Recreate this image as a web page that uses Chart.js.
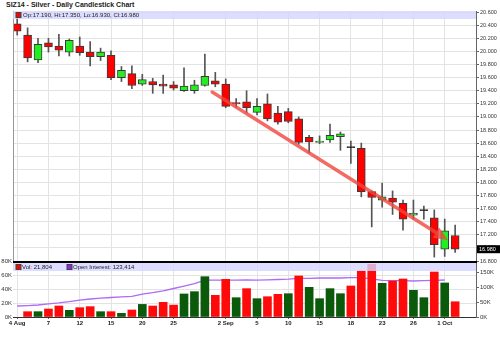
<!DOCTYPE html>
<html>
<head>
<meta charset="utf-8">
<script src="https://cdn.jsdelivr.net/npm/chart.js@4.4.1/dist/chart.umd.min.js"></script>
<style>
  body { margin: 0; background: #fff; width: 500px; height: 340px; overflow: hidden; position: relative; }
  #title { position: absolute; left: 6px; top: 1px; font: bold 7px/8px "Liberation Sans", Arial, sans-serif; color: #222; white-space: nowrap; }
  #price { position: absolute; left: 0; top: 0; }
  #vol { position: absolute; left: 0; top: 254px; }
</style>
</head>
<body>
<div id="title">SIZ14 - Silver - Daily Candlestick Chart</div>
<canvas id="price" width="500" height="272"></canvas>
<canvas id="vol" width="500" height="86"></canvas>
<script>
// Trading days
const dates = [
  "Aug 4", "Aug 5", "Aug 6", "Aug 7", "Aug 8", "Aug 11", "Aug 12", "Aug 13", "Aug 14", "Aug 15",
  "Aug 18", "Aug 19", "Aug 20", "Aug 21", "Aug 22", "Aug 25", "Aug 26", "Aug 27", "Aug 28", "Aug 29",
  "Sep 2", "Sep 3", "Sep 4", "Sep 5", "Sep 8", "Sep 9", "Sep 10", "Sep 11", "Sep 12", "Sep 15",
  "Sep 16", "Sep 17", "Sep 18", "Sep 19", "Sep 22", "Sep 23", "Sep 24", "Sep 25", "Sep 26", "Sep 29",
  "Sep 30", "Oct 1", "Oct 2"
];

// OHLC
const openPx = [
  20.42, 20.25, 19.87, 20.13, 20.08, 19.99, 20.08, 19.99, 19.92, 19.94,
  19.60, 19.66, 19.50, 19.54, 19.50, 19.49, 19.40, 19.40, 19.48, 19.55,
  19.50, 19.22, 19.23, 19.07, 19.20, 19.06, 19.08, 18.97, 18.69, 18.61,
  18.65, 18.70, 18.53, 18.52, 17.86, 17.73, 17.76, 17.68, 17.50, 17.57,
  17.46, 16.98, 17.19
];
const highPx = [
  20.52, 20.36, 20.20, 20.20, 20.26, 20.19, 20.22, 20.15, 20.05, 20.01,
  19.77, 19.78, 19.65, 19.59, 19.64, 19.54, 19.75, 19.56, 19.96, 19.68,
  19.58, 19.28, 19.40, 19.28, 19.35, 19.16, 19.13, 19.00, 18.72, 18.71,
  18.89, 18.77, 18.63, 18.60, 17.87, 17.99, 17.87, 17.73, 17.73, 17.64,
  17.58, 17.44, 17.35
];
const lowPx = [
  20.25, 19.84, 19.83, 19.99, 19.93, 19.93, 19.94, 19.78, 19.86, 19.57,
  19.54, 19.43, 19.48, 19.36, 19.36, 19.41, 19.39, 19.36, 19.47, 19.46,
  19.14, 19.15, 19.06, 19.03, 18.94, 18.89, 18.91, 18.58, 18.45, 18.59,
  18.61, 18.49, 18.29, 17.78, 17.32, 17.62, 17.51, 17.27, 17.44, 17.44,
  16.86, 16.87, 16.93
];
const closePx = [
  20.31, 19.90, 20.11, 20.07, 20.02, 20.17, 19.98, 19.92, 19.99, 19.60,
  19.71, 19.48, 19.57, 19.49, 19.47, 19.44, 19.47, 19.49, 19.62, 19.50,
  19.16, 19.20, 19.14, 19.16, 18.97, 18.92, 18.93, 18.61, 18.62, 18.63,
  18.72, 18.74, 18.53, 17.86, 17.77, 17.78, 17.70, 17.44, 17.53, 17.57,
  17.05, 17.26, 16.98
];

// Volume and open interest
const volume = [
  null, 7600, 7600, 11400, 15700, 9500, 13300, 14800, 7600, 7600,
  5200, 10000, 18000, 15700, 21000, 17000, 32900, 36200, 57600, 31000,
  53800, 27600, 40500, 26200, 29000, 32400, 33300, 58600, 42400, 26200,
  40500, 33300, 44300, 65700, 75200, 48100, 51400, 54300, 38100, 27600,
  64300, 48600, 21804
];
const openInterest = [
  36700, 38000, 40000, 44000, 47000, 51000, 56000, 60000, 63000, 65000,
  67000, 69000, 76000, 81000, 87000, 95000, 103000, 111000, 123000, 123000,
  123000, 123000, 124000, 123000, 124000, 125000, 126000, 129000, 129000, 130000,
  130000, 130000, 131000, 131000, 127000, 122000, 121000, 121000, 120000, 121000,
  122000, 123414, null
];

// Axis ticks
const tickDates = ["Aug 4", "Aug 7", "Aug 12", "Aug 15", "Aug 20", "Aug 25", "Sep 2", "Sep 5", "Sep 10", "Sep 15", "Sep 18", "Sep 23", "Sep 26", "Oct 1"];
const tickLabels = ["4 Aug", "7", "12", "15", "20", "25", "2 Sep", "5", "10", "15", "18", "23", "26", "1 Oct"];
const priceTicks = [16.8, 17.0, 17.2, 17.4, 17.6, 17.8, 18.0, 18.2, 18.4, 18.6, 18.8, 19.0, 19.2, 19.4, 19.6, 19.8, 20.0, 20.2, 20.4, 20.6];
const volTicks = [0, 20000, 40000, 60000, 80000];
const oiTicks = [0, 50000, 100000, 150000];

// Trend arrow, [day index, price]
const trendFrom = [18.7, 19.38];
const trendTo = [41.3, 17.12];

Chart.defaults.font.family = '"Liberation Sans", Arial, sans-serif';

const tickIndex = tickDates.map((d) => dates.indexOf(d));
const GRID = "#e3e3e3";
const last = dates.length - 1;

function candleColor(i) {
  if (closePx[i] > openPx[i]) return "#22ee22";
  if (closePx[i] < openPx[i]) return "#ff0000";
  return "#000";
}

function setXTicks(scale) {
  scale.ticks = tickIndex.map((v) => ({ value: v }));
}

// Draws the trend arrow, legend band and last price tag
const pricePlugin = {
  id: "pricePlugin",
  afterDatasetsDraw(chart) {
    const { ctx, scales } = chart;
    const x1 = scales.x.getPixelForValue(trendFrom[0]);
    const y1 = scales.y.getPixelForValue(trendFrom[1]);
    const x2 = scales.x.getPixelForValue(trendTo[0]);
    const y2 = scales.y.getPixelForValue(trendTo[1]);
    const ang = Math.atan2(y2 - y1, x2 - x1);
    const headLen = 14;
    const bx = x2 - headLen * Math.cos(ang);
    const by = y2 - headLen * Math.sin(ang);
    ctx.save();
    ctx.strokeStyle = "rgba(240, 70, 60, 0.8)";
    ctx.fillStyle = "rgba(240, 70, 60, 0.8)";
    ctx.lineWidth = 3.5;
    ctx.lineCap = "round";
    ctx.beginPath();
    ctx.moveTo(x1, y1);
    ctx.lineTo(bx, by);
    ctx.stroke();
    ctx.beginPath();
    ctx.moveTo(x2, y2);
    ctx.lineTo(bx + 6 * Math.sin(ang), by - 6 * Math.cos(ang));
    ctx.lineTo(bx - 6 * Math.sin(ang), by + 6 * Math.cos(ang));
    ctx.closePath();
    ctx.fill();
    ctx.restore();
  },
  afterDraw(chart) {
    const { ctx, chartArea: a, scales } = chart;
    ctx.save();
    // left border
    ctx.strokeStyle = "#999";
    ctx.lineWidth = 1;
    ctx.beginPath();
    ctx.moveTo(a.left + 0.5, a.top);
    ctx.lineTo(a.left + 0.5, a.bottom);
    ctx.stroke();
    // legend band
    ctx.fillStyle = "rgba(212, 212, 255, 0.8)";
    ctx.fillRect(a.left, a.top, a.right - a.left, 8);
    ctx.fillStyle = "#ff0000";
    ctx.fillRect(a.left + 3, a.top + 1.5, 5, 5);
    ctx.strokeStyle = "#444";
    ctx.strokeRect(a.left + 3, a.top + 1.5, 5, 5);
    ctx.fillStyle = "#222";
    ctx.font = '6px "Liberation Sans", Arial, sans-serif';
    ctx.textBaseline = "middle";
    ctx.fillText(
      "Op:" + openPx[last].toFixed(3) + ", Hi:" + highPx[last].toFixed(3) +
      ", Lo:" + lowPx[last].toFixed(3) + ", Cl:" + closePx[last].toFixed(3),
      a.left + 10, a.top + 4.5
    );
    // last price tag
    const y = scales.y.getPixelForValue(closePx[last]);
    ctx.fillStyle = "#000";
    ctx.fillRect(a.right + 1, y - 4, 500 - a.right - 1, 8);
    ctx.fillStyle = "#fff";
    ctx.font = '5.5px "Liberation Sans", Arial, sans-serif';
    ctx.fillText(closePx[last].toFixed(3), a.right + 3, y + 0.5);
    ctx.restore();
  },
};

new Chart(document.getElementById("price"), {
  type: "bar",
  data: {
    datasets: [
      {
        label: "Body",
        data: dates.map((d, i) => ({ x: i, y: [openPx[i], closePx[i]] })),
        backgroundColor: (c) => candleColor(c.dataIndex),
        borderColor: "#3a3a3a",
        borderWidth: 1,
        borderSkipped: false,
        barThickness: 8,
        minBarLength: 1,
        grouped: false,
        order: 0,
      },
      {
        label: "Wick",
        data: dates.map((d, i) => ({ x: i, y: [lowPx[i], highPx[i]] })),
        backgroundColor: "#555",
        barThickness: 1,
        grouped: false,
        order: 1,
      },
    ],
  },
  options: {
    responsive: false,
    animation: false,
    devicePixelRatio: 1,
    layout: { padding: { left: 13, top: 11, right: 0, bottom: 11 } },
    plugins: { legend: { display: false }, tooltip: { enabled: false } },
    scales: {
      x: {
        type: "linear",
        offset: false,
        min: -0.4,
        max: 44,
        afterBuildTicks: setXTicks,
        afterFit: (s) => { s.height = 0; },
        ticks: { display: false },
        grid: { color: GRID, drawTicks: false, offset: false },
        border: { display: false },
      },
      y: {
        position: "right",
        min: 16.8,
        max: 20.617,
        afterBuildTicks: (s) => { s.ticks = priceTicks.map((v) => ({ value: v })); },
        afterFit: (s) => { s.width = 24; },
        ticks: {
          font: { size: 5.5 },
          color: "#333",
          padding: 1,
          callback: (v) => v.toFixed(3),
        },
        grid: { color: GRID, tickColor: "#666", tickLength: 3 },
        border: { color: "#666" },
      },
    },
  },
  plugins: [pricePlugin],
});

// Separator, legend band for the lower panel
const volPlugin = {
  id: "volPlugin",
  afterDraw(chart) {
    const { ctx, chartArea: a } = chart;
    ctx.save();
    ctx.fillStyle = "rgba(212, 212, 255, 0.8)";
    ctx.fillRect(a.left, a.top + 2, a.right - a.left, 8);
    ctx.fillStyle = "#000";
    ctx.fillRect(a.left, a.top, a.right - a.left + 1, 2);
    ctx.font = '6px "Liberation Sans", Arial, sans-serif';
    ctx.textBaseline = "middle";
    ctx.fillStyle = "#ff0000";
    ctx.fillRect(a.left + 3, a.top + 3.5, 5, 5);
    ctx.strokeStyle = "#444";
    ctx.lineWidth = 1;
    ctx.strokeRect(a.left + 3, a.top + 3.5, 5, 5);
    ctx.fillStyle = "#222";
    ctx.fillText("Vol: " + volume[last].toLocaleString("en-US"), a.left + 9, a.top + 6.5);
    ctx.fillStyle = "#8a2be2";
    ctx.fillRect(a.left + 54, a.top + 3.5, 5, 5);
    ctx.strokeRect(a.left + 54, a.top + 3.5, 5, 5);
    ctx.fillStyle = "#222";
    const oiLast = openInterest.filter((v) => v != null).pop();
    ctx.fillText("Open Interest: " + oiLast.toLocaleString("en-US"), a.left + 60, a.top + 6.5);
    ctx.restore();
  },
};

new Chart(document.getElementById("vol"), {
  type: "bar",
  data: {
    datasets: [
      {
        type: "bar",
        label: "Vol",
        data: dates.map((d, i) => ({ x: i, y: volume[i] })),
        backgroundColor: (c) => {
          const i = c.dataIndex;
          return i > 0 && closePx[i] < closePx[i - 1] ? "#ff0a0a" : "#0b5a0b";
        },
        barThickness: 8,
        yAxisID: "yv",
        order: 0,
      },
      {
        type: "line",
        label: "Open Interest",
        data: dates.map((d, i) => ({ x: i, y: openInterest[i] })),
        borderColor: "#b06af5",
        borderWidth: 1.3,
        pointRadius: 0,
        yAxisID: "yo",
        order: 1,
      },
    ],
  },
  options: {
    responsive: false,
    animation: false,
    devicePixelRatio: 1,
    layout: { padding: { left: 0, top: 7, right: 0, bottom: 0 } },
    plugins: { legend: { display: false }, tooltip: { enabled: false } },
    scales: {
      x: {
        type: "linear",
        offset: false,
        min: -0.4,
        max: 44,
        afterBuildTicks: setXTicks,
        afterFit: (s) => { s.height = 23; },
        ticks: {
          font: { size: 6, weight: "bold" },
          color: "#222",
          padding: 1,
          maxRotation: 0,
          autoSkip: false,
          callback: (v) => tickLabels[tickIndex.indexOf(v)],
        },
        grid: { color: GRID, tickLength: 2, tickColor: "#666", offset: false },
        border: { color: "#333" },
      },
      yv: {
        position: "left",
        min: 0,
        max: 80000,
        afterBuildTicks: (s) => { s.ticks = volTicks.map((v) => ({ value: v })); },
        afterFit: (s) => { s.width = 13; },
        ticks: { font: { size: 6 }, color: "#333", padding: 1, callback: (v) => v / 1000 + "K" },
        grid: { color: GRID, drawTicks: false },
        border: { display: false },
      },
      yo: {
        position: "right",
        min: 0,
        max: 186667,
        afterBuildTicks: (s) => { s.ticks = oiTicks.map((v) => ({ value: v })); },
        afterFit: (s) => { s.width = 24; },
        ticks: { font: { size: 6 }, color: "#333", padding: 1, callback: (v) => v / 1000 + "K" },
        grid: { drawOnChartArea: false, tickColor: "#666", tickLength: 3 },
        border: { color: "#666" },
      },
    },
  },
  plugins: [volPlugin],
});
</script>
</body>
</html>
